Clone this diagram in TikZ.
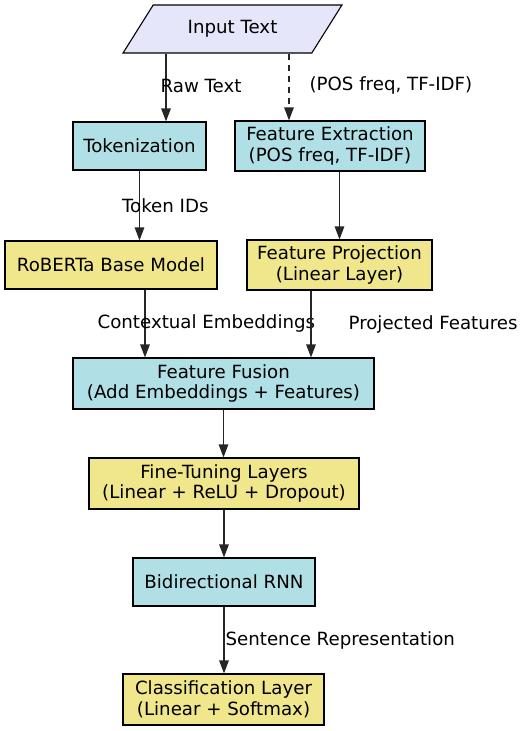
\documentclass[tikz,border=0pt]{standalone}
\usepackage{fontspec}
\setmainfont{DejaVu Sans}
\usetikzlibrary{shapes.geometric, arrows.meta}
\definecolor{lightblue}{HTML}{B0E0E6}
\definecolor{khaki}{HTML}{F0E68C}
\definecolor{lavender}{HTML}{E6E6FA}

\begin{document}
\begin{tikzpicture}[x=1pt, y=-1pt,
    every node/.style={font=\fontsize{18.2}{20.8}\selectfont, align=center, inner sep=0pt},
    bluebox/.style={draw, line width=1.1pt, fill=lightblue},
    yellowbox/.style={draw, line width=1.1pt, fill=khaki},
    edge/.style={-{Triangle[length=13pt, width=9.5pt]}, line width=1.2pt, draw=black!85},
    lbl/.style={anchor=west}]
                \useasboundingbox (0,0) rectangle (527,731);

                \node[draw, line width=1.1pt, fill=lavender, trapezium, trapezium left angle=45,
                      trapezium right angle=135, trapezium stretches=true,
                      minimum width=219pt, minimum height=48pt] (inp) at (232.5,29) {Input Text};

                \node[bluebox, minimum width=133pt, minimum height=48pt] (tok) at (139.5,146) {Tokenization};
                \node[bluebox, minimum width=190pt, minimum height=50pt] (fe) at (330,146) {Feature Extraction\\(POS freq, TF-IDF)};
                \node[yellowbox, minimum width=212pt, minimum height=48pt] (rob) at (111,265) {RoBERTa Base Model};
                \node[yellowbox, minimum width=185pt, minimum height=50pt] (fp) at (339.5,265) {Feature Projection\\(Linear Layer)};
                \node[bluebox, minimum width=301pt, minimum height=51pt] (fus) at (223.5,383.5) {Feature Fusion\\(Add Embeddings + Features)};
                \node[yellowbox, minimum width=270pt, minimum height=51pt] (ft) at (224,483.5) {Fine-Tuning Layers\\(Linear + ReLU + Dropout)};
                \node[bluebox, minimum width=182pt, minimum height=48pt] (rnn) at (224,582) {Bidirectional RNN};
                \node[yellowbox, minimum width=201pt, minimum height=51pt] (cls) at (223.5,699.5) {Classification Layer\\(Linear + Softmax)};

                \draw[edge] ([xshift=26.5pt]tok.north |- inp.south) -- ([xshift=26.5pt]tok.north)
                    node[lbl, midway, xshift=-6pt, yshift=2pt] (rawlbl) {Raw Text};
                \draw[edge, dash pattern=on 6pt off 5pt] ([xshift=-41pt]fe.north |- inp.south) -- ([xshift=-41pt]fe.north)
                    node[lbl, midway, xshift=20pt, yshift=2pt] (poslbl) {(POS freq, TF-IDF)};
                \draw[edge] (tok.south) -- (tok.south |- rob.north)
                    node[lbl, midway, xshift=-18pt] (toklbl) {Token IDs};
                \draw[edge] (fp.north |- fe.south) -- (fp.north);
                \draw[edge] ([xshift=34pt]rob.south) -- ([xshift=34pt]rob.south |- fus.north)
                    node[lbl, midway, xshift=-48pt] (ctxlbl) {Contextual Embeddings};
                \draw[edge] ([xshift=-28.5pt]fp.south) -- ([xshift=-28.5pt]fp.south |- fus.north)
                    node[lbl, midway, xshift=37pt] (projlbl) {Projected Features};
                \draw[edge] (fus.south) -- (fus.south |- ft.north);
                \draw[edge] (ft.south) -- (rnn.north);
                \draw[edge] (rnn.south) -- (rnn.south |- cls.north)
                    node[lbl, midway, xshift=1pt] (sentlbl) {Sentence Representation};
            \end{tikzpicture}
\end{document}
